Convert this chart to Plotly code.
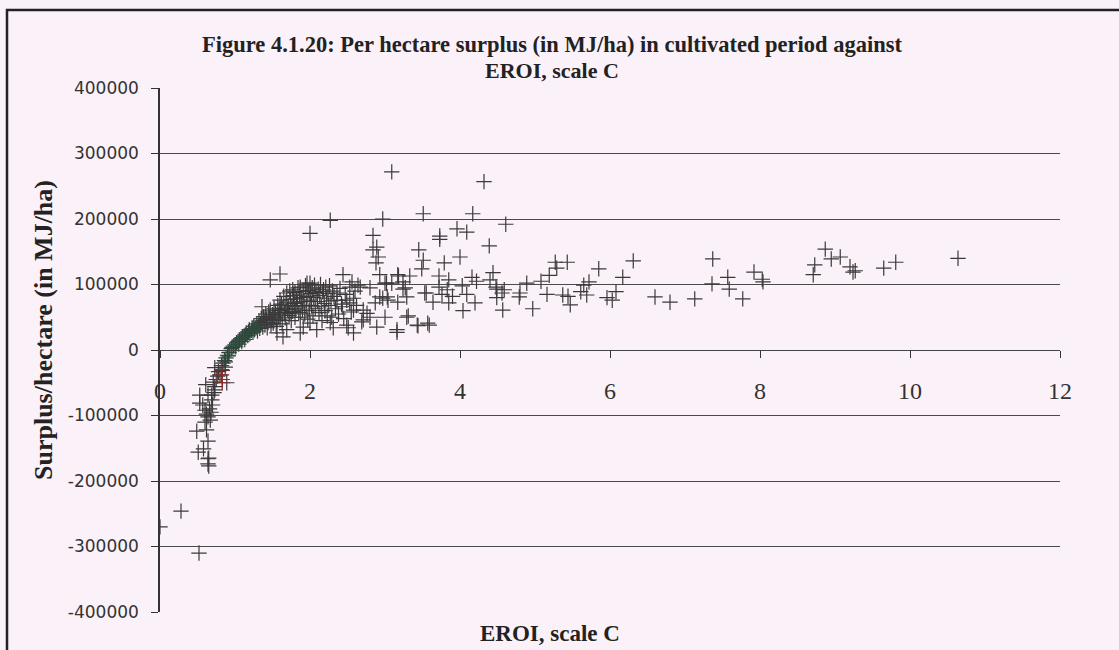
import plotly.graph_objects as go

# ---------------- data ----------------
# main series (dark grey crosses)
eroi_main = [
    0.0, 0.28, 0.52, 0.51, 0.64, 0.64, 0.49, 0.62, 0.64, 0.58, 0.65, 0.65, 0.64, 0.60, 0.67,
    0.57, 0.53, 0.64, 0.69, 0.73, 0.61, 0.71, 0.80, 0.83, 0.73, 0.87, 0.91, 0.53, 0.69, 0.73,
    0.66, 0.89, 0.87, 0.62, 0.68, 0.70, 0.75, 0.77, 0.78, 0.82, 0.84, 0.72, 0.60,
    1.31, 1.32, 1.33, 1.34, 1.35, 1.36, 1.36, 1.37, 1.38, 1.39, 1.40, 1.41, 1.42, 1.43, 1.44,
    1.45, 1.46, 1.47, 1.48, 1.49, 1.50, 1.51, 1.52, 1.53, 1.54, 1.55, 1.56, 1.56, 1.57, 1.58,
    1.59, 1.60, 1.60, 1.60,
    1.61, 1.62, 1.63, 1.64, 1.64, 1.65, 1.66, 1.67, 1.68, 1.69, 1.69, 1.70, 1.71, 1.72, 1.73,
    1.73, 1.74, 1.75, 1.76, 1.77, 1.77, 1.78, 1.79, 1.80, 1.80, 1.81, 1.82, 1.83, 1.84, 1.85,
    1.86, 1.87, 1.87, 1.87, 1.88, 1.89, 1.90,
    1.91, 1.91, 1.92, 1.93, 1.94, 1.95, 1.96, 1.96, 1.97, 1.98, 1.99, 2.00, 2.00, 2.00, 2.01,
    2.02, 2.03, 2.04, 2.05, 2.06, 2.07, 2.08, 2.09, 2.10, 2.11, 2.12, 2.13, 2.14, 2.15, 2.16,
    2.17, 2.18, 2.19, 2.20, 2.21, 2.22, 2.23, 2.24, 2.25, 2.26, 2.27, 2.28, 2.29, 2.30,
    2.31, 2.32, 2.34, 2.36, 2.36, 2.38, 2.40, 2.42, 2.43, 2.44, 2.45, 2.47, 2.49, 2.49, 2.51,
    2.53, 2.53, 2.55, 2.56, 2.58, 2.58, 2.58, 2.60, 2.62, 2.64, 2.67, 2.69, 2.71, 2.71,
    1.47, 1.60, 2.00, 2.27,
    2.76, 2.80, 2.80, 2.84, 2.84, 2.89, 2.91, 2.88, 2.89, 2.93, 2.93, 2.97, 2.97, 2.87, 3.00,
    3.00, 3.02, 3.03, 3.04, 3.09, 3.09, 3.16, 3.16, 3.17, 3.17, 3.18, 3.24, 3.24, 3.27, 3.29,
    3.29, 3.31, 3.33, 3.43, 3.44, 3.45, 3.49, 3.51, 3.51, 3.53, 3.55, 3.57, 3.59, 3.64, 3.72,
    3.72, 3.73, 3.73, 3.76, 3.79, 3.83, 3.85, 3.85, 3.90, 3.96, 4.00, 4.03, 4.04, 4.09, 4.09,
    4.16, 4.17, 4.20, 4.22, 4.32, 4.39, 4.40, 4.44, 4.48, 4.49, 4.49, 4.56, 4.57, 4.59, 4.61,
    4.79, 4.80, 4.89, 4.97, 5.08, 5.16, 5.19, 5.27, 5.29, 5.37, 5.43, 5.44, 5.47, 5.61, 5.65,
    5.69, 5.72, 5.85, 5.96, 6.03, 6.08, 6.17, 6.31, 6.60, 6.80, 7.13, 7.37, 7.36, 7.57, 7.59,
    7.77, 7.92, 8.03, 8.04, 8.71, 8.73, 8.87, 8.95, 9.07, 9.20, 9.24, 9.27, 9.65, 9.81, 10.64,
]
surplus_main = [
    -270000, -246000, -310000, -156000, -166000, -174000, -124000, -122000, -139000, -151000,
    -165000, -177000, -102000, -92000, -107000, -84000, -69000, -69000, -76000, -61000,
    -53000, -49000, -38000, -31000, -27000, -18000, -9000, -81000, -69000, -56000,
    -90000, -50000, -26000, -98000, -95000, -84000, -45000, -40000, -33000, -24000,
    -20000, -65000, -110000,
    37000, 44000, 33000, 39000, 48000, 66000, 42000, 35000, 51000, 45000, 38000, 55000, 47000,
    34000, 42000, 58000, 50000, 61000, 39000, 46000, 54000, 41000, 63000, 49000, 57000, 36000,
    45000, 26000, 68000, 52000, 60000, 76000, 46000, 61000,
    55000, 70000, 40000, 20000, 64000, 82000, 57000, 49000, 73000, 87000, 31000, 62000, 68000,
    53000, 56000, 90000, 77000, 45000, 66000, 92000, 59000, 83000, 71000, 50000, 88000, 63000,
    78000, 72000, 95000, 57000, 84000, 50000, 96000, 26000, 68000, 80000, 61000,
    35000, 89000, 74000, 55000, 98000, 66000, 102000, 82000, 47000, 91000, 60000, 102000,
    41000, 76000, 86000, 68000, 95000, 52000, 80000, 99000, 63000, 88000, 31000, 74000, 93000,
    57000, 83000, 100000, 66000, 45000, 89000, 92000, 71000, 60000, 96000, 79000, 52000, 86000,
    68000, 98000, 42000, 75000, 50000, 90000,
    34000, 82000, 63000, 87000, 76000, 55000, 94000, 70000, 66000, 115000, 48000, 85000, 76000,
    38000, 34000, 96000, 72000, 58000, 104000, 79000, 61000, 26000, 90000, 68000, 99000, 96000,
    43000, 61000, 46000,
    107000, 116000, 178000, 198000,
    56000, 95000, 50000, 175000, 153000, 157000, 142000, 133000, 35000, 115000, 81000, 79000,
    200000, 72000, 102000, 50000, 102000, 81000, 76000, 272000, 102000, 31000, 27000, 73000,
    115000, 113000, 104000, 93000, 95000, 81000, 50000, 52000, 113000, 38000, 37000, 153000,
    124000, 137000, 208000, 87000, 87000, 41000, 38000, 73000, 96000, 113000, 174000, 169000,
    85000, 133000, 92000, 107000, 72000, 82000, 185000, 142000, 98000, 60000, 180000, 85000,
    111000, 208000, 72000, 105000, 257000, 159000, 107000, 118000, 96000, 80000, 93000, 87000,
    61000, 92000, 192000, 81000, 87000, 102000, 63000, 105000, 85000, 114000, 134000, 125000,
    84000, 134000, 82000, 69000, 89000, 99000, 84000, 104000, 124000, 80000, 76000, 89000,
    111000, 136000, 81000, 73000, 78000, 139000, 101000, 111000, 93000, 78000, 119000, 108000,
    104000, 115000, 130000, 154000, 139000, 142000, 127000, 119000, 121000, 125000, 134000,
    140000,
]

# second series (dark green crosses, lower part of the curve)
eroi_green = [
    0.86, 0.88, 0.90, 0.92, 0.93, 0.95, 0.96, 0.98, 1.00, 1.01, 1.02, 1.04, 1.05, 1.06, 1.08,
    1.09, 1.10, 1.12, 1.13, 1.14, 1.15, 1.17, 1.18, 1.19, 1.20, 1.22, 1.23, 1.24, 1.25, 1.26,
    1.28, 1.29, 1.30,
]
surplus_green = [
    -16000, -12000, -8000, -4000, -1000, 2000, 4000, 6000, 8000, 5000, 11000, 13000, 9000,
    15000, 17000, 13000, 19000, 21000, 16000, 23000, 26000, 22000, 28000, 31000, 25000, 30000,
    33000, 27000, 36000, 31000, 34000, 40000, 29000,
]

# third series (red crosses)
eroi_red = [0.82, 0.82, 0.83, 0.83]
surplus_red = [-30000, -38000, -45000, -50000]

# axes
x_ticks = [0, 2, 4, 6, 8, 10, 12]
y_ticks = [400000, 300000, 200000, 100000, 0, -100000, -200000, -300000, -400000]
y_tick_labels = ["400000", "300000", "200000", "100000", "0",
                 "-100000", "-200000", "-300000", "-400000"]

title_line1 = "Figure 4.1.20: Per hectare surplus (in MJ/ha) in cultivated period against"
title_line2 = "EROI, scale C"
x_title = "EROI, scale C"
y_title = "Surplus/hectare (in MJ/ha)"

# ---------------- figure ----------------
serif = "Times New Roman, Liberation Serif, serif"
sans = "Verdana, DejaVu Sans, sans-serif"
bg = "#FBF1F8"
W, H = 1119, 650
L, R, T, B = 160, 59, 88, 38
PW, PH = W - L - R, H - T - B


def px_x(px):
    return (px - L) / PW


def px_y(py):
    return (H - B - py) / PH


def series(xs, ys, color):
    return go.Scatter(
        x=xs, y=ys, mode="markers", showlegend=False, hoverinfo="skip",
        marker=dict(symbol="cross-thin", size=11, color=color,
                    line=dict(color=color, width=1.2)),
    )


fig = go.Figure()
fig.add_trace(series(eroi_main, surplus_main, "#3a3a3a"))
fig.add_trace(series(eroi_green, surplus_green, "#2f4a3c"))
fig.add_trace(series(eroi_red, surplus_red, "#8c2b2b"))

fig.update_layout(
    width=W, height=H,
    margin=dict(l=L, r=R, t=T, b=B, autoexpand=False),
    paper_bgcolor=bg, plot_bgcolor=bg,
    title=dict(text="<b>" + title_line1 + "</b>", x=552 / W, xanchor="center",
               xref="container", yref="container", y=1 - 44 / H, yanchor="middle",
               font=dict(family=serif, size=22.5, color="#222222")),
    xaxis=dict(
        range=[0, 12], tickvals=x_ticks, ticks="outside", ticklen=7, tickwidth=1,
        tickcolor="#333333", showgrid=False, zeroline=False, showline=True,
        linecolor="#444444", linewidth=1, anchor="free", position=0.5,
        tickfont=dict(family=serif, size=24, color="#333333"), ticklabelstandoff=12,
    ),
    yaxis=dict(
        range=[-400000, 400000], tickvals=y_ticks, ticktext=y_tick_labels,
        ticks="outside", ticklen=7, tickcolor="#333333", showgrid=True,
        gridcolor="#4a4a4a", gridwidth=1, zeroline=False, showline=True,
        linecolor="#333333", linewidth=1.5,
        tickfont=dict(family=sans, size=17, color="#333333"), ticklabelstandoff=9,
    ),
    annotations=[
        dict(text="<b>" + title_line2 + "</b>", xref="paper", yref="paper",
             x=px_x(552), y=px_y(70), showarrow=False, xanchor="center", yanchor="middle",
             font=dict(family=serif, size=22, color="#222222")),
        dict(text="<b>" + y_title + "</b>", textangle=-90, xref="paper", yref="paper",
             x=px_x(43), y=px_y(330), showarrow=False, xanchor="center", yanchor="middle",
             font=dict(family=serif, size=26, color="#222222")),
        dict(text="<b>" + x_title + "</b>", xref="paper", yref="paper",
             x=px_x(550), y=px_y(633), showarrow=False, xanchor="center", yanchor="middle",
             font=dict(family=serif, size=23, color="#222222")),
    ],
    shapes=[
        dict(type="rect", xref="paper", yref="paper",
             x0=px_x(7), x1=px_x(1135), y0=px_y(670), y1=px_y(10),
             line=dict(color="#222222", width=2.5), layer="below"),
    ],
)

fig.write_html(
    "out.html",
    config={"displayModeBar": False},
    post_script=("document.body.style.margin='0';"
                 "document.body.style.background='" + bg + "';"
                 "document.body.style.overflow='hidden';"),
)
